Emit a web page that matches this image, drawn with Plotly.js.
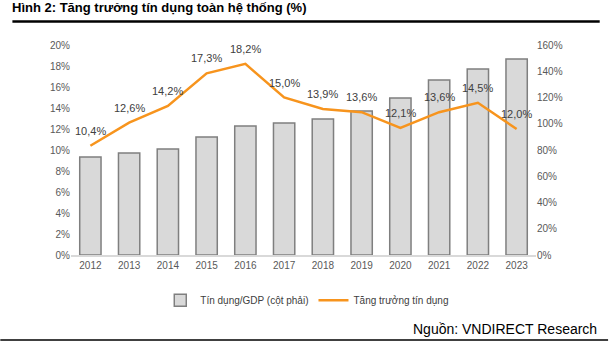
<!DOCTYPE html>
<html><head><meta charset="utf-8">
<script src="https://cdn.plot.ly/plotly-3.0.1.min.js"></script>
<style>html,body{margin:0;padding:0;background:#fff}#c{width:609px;height:349px}</style>
</head><body><div id="c"></div>
<script>
const years = ['2012','2013','2014','2015','2016','2017','2018','2019','2020','2021','2022','2023'];
const creditGdp = [74.7, 77.7, 80.8, 89.9, 98.3, 100.6, 103.6, 109.7, 119.6, 133.3, 141.7, 149.3];
const creditGrowth = [10.4, 12.6, 14.2, 17.3, 18.2, 15.0, 13.9, 13.6, 12.1, 13.6, 14.5, 12.0];
const growthLabels = ['10,4%','12,6%','14,2%','17,3%','18,2%','15,0%','13,9%','13,6%','12,1%','13,6%','14,5%','12,0%'];
const leftTicks = [0,2,4,6,8,10,12,14,16,18,20];
const rightTicks = [0,20,40,60,80,100,120,140,160];

const font = 'Liberation Sans, Arial, sans-serif';
const data = [
  {type:'bar', x:years, y:creditGdp, name:'Tín dụng/GDP (cột phải)', yaxis:'y',
   marker:{color:'#d9d9d9', line:{color:'#7f7f7f', width:1.5}}, hoverinfo:'skip'},
  {type:'scatter', mode:'lines', x:years, y:creditGrowth, name:'Tăng trưởng tín dụng', yaxis:'y2',
   line:{color:'#f7941d', width:2.5}, hoverinfo:'skip'}
];
// annotations on a category axis: position by category index
const labelAnns = years.map((yr, i) => ({
  x: i, y: creditGrowth[i], xref:'x', yref:'y2', yshift:15, showarrow:false,
  text: growthLabels[i], font:{family:font, size:11, color:'#404040'}
}));
const layout = {
  width:609, height:349,
  margin:{l:70.6, r:72.6, t:45, b:94},
  paper_bgcolor:'#fff', plot_bgcolor:'#fff',
  font:{family:font, size:10, color:'#595959'},
  showlegend:true,
  legend:{orientation:'h', x:0.192, xanchor:'left', y:-0.215, yanchor:'middle',
          font:{family:font, size:10, color:'#404040'}, itemwidth:30, tracegroupgap:0},
  bargap:0.45,
  xaxis:{type:'category', categoryarray:years, range:[-0.5, years.length-0.5], showgrid:false, showline:true,
         linecolor:'#d9d9d9', linewidth:1.5, ticks:'', tickfont:{size:10, color:'#595959'}},
  yaxis:{side:'right', range:[0,160], tickvals:rightTicks, ticktext:rightTicks.map(v=>v+'%'),
         showgrid:false, zeroline:false, ticks:'', tickfont:{size:10, color:'#595959'}},
  yaxis2:{side:'left', overlaying:'y', range:[0,20], tickvals:leftTicks, ticktext:leftTicks.map(v=>v+'%'),
         showgrid:false, zeroline:false, ticks:'', tickfont:{size:10, color:'#595959'}},
  annotations:[
    {xref:'paper', yref:'paper', x:-0.132, y:1.18, xanchor:'left', yanchor:'middle', showarrow:false,
     text:'<b>Hình 2: Tăng trưởng tín dụng toàn hệ thống (%)</b>', font:{family:font, size:13, color:'#000'}},
    {xref:'paper', yref:'paper', x:1.135, y:-0.35, xanchor:'right', yanchor:'middle', showarrow:false,
     text:'Nguồn: VNDIRECT Research', font:{family:font, size:14, color:'#000'}}
  ].concat(labelAnns),
  shapes:[
    {type:'line', xref:'paper', yref:'paper', x0:-0.126, x1:1.137, y0:1.112, y1:1.112, line:{color:'#000', width:2.5}},
    {type:'line', xref:'paper', yref:'paper', x0:-0.152, x1:1.155, y0:-0.405, y1:-0.405, line:{color:'#000', width:1.5}}
  ]
};
Plotly.newPlot('c', data, layout, {displayModeBar:false, staticPlot:true});
</script></body></html>
